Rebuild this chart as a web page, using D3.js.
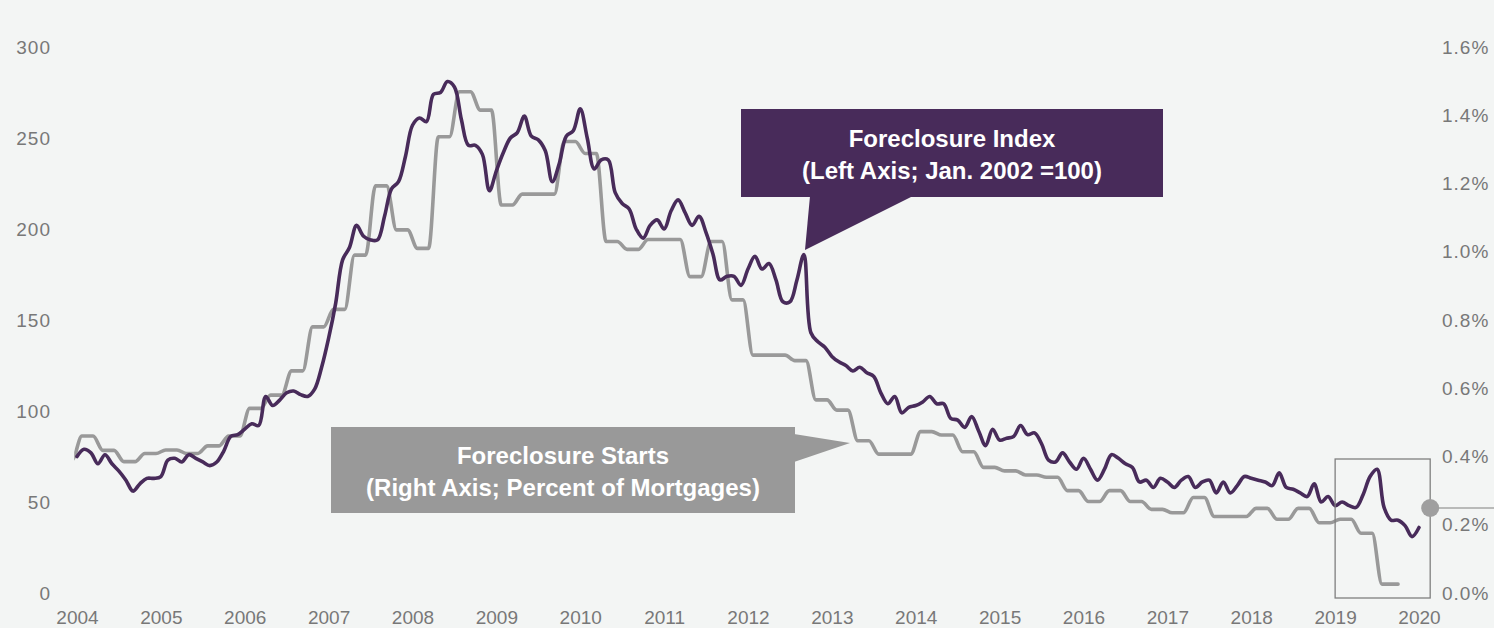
<!DOCTYPE html>
<html>
<head>
<meta charset="utf-8">
<script src="https://cdn.jsdelivr.net/npm/d3@7"></script>
<style>
	html, body { margin: 0; padding: 0; background: #f3f5f4; }
	svg { display: block; font-family: "Liberation Sans", Arial, sans-serif; }
</style>
</head>
<body>
<div id="chart"></div>
<script>
// DATA
// Foreclosure index, monthly from Jan 2004 (left axis, Jan. 2002 = 100)
const indexMonthly = [
	75, 79, 77, 71, 76, 71, 67, 62, 56, 60, 63, 63,
	64, 73, 74, 72, 76, 74, 72, 70, 72, 78, 86, 87,
	90, 93, 92, 108, 103, 106, 110, 111, 109, 108, 112, 124,
	140, 159, 183, 190, 202, 196, 194, 194, 207, 222, 226, 240,
	257, 261, 259, 274, 275, 281, 278, 260, 246, 246, 241, 221,
	232, 242, 250, 253, 262, 251, 249, 243, 226, 236, 251, 254,
	266, 250, 233, 238, 238, 220, 214, 211, 200, 195, 202, 205,
	200, 210, 216, 209, 202, 207, 198, 186, 172, 174, 174, 169,
	178, 185, 178, 181, 172, 160, 160, 172, 186, 143, 138, 135,
	130, 127, 125, 122, 124, 121, 119, 110, 104, 108, 99, 102,
	103, 105, 108, 104, 104, 96, 95, 91, 97, 89, 81, 90,
	84, 85, 86, 92, 87, 88, 82, 73, 72, 77, 72, 68,
	74, 68, 62, 68, 76, 74, 71, 69, 61, 62, 58, 63,
	61, 58, 62, 64, 58, 61, 62, 55, 61, 55, 59, 64,
	63, 62, 61, 59, 66, 58, 57, 55, 53, 60, 50, 53,
	48, 50, 48, 47, 54, 64, 68, 47, 40, 40, 37, 31,
	36
];

// Foreclosure starts, quarterly from Q4 2003 (right axis, percent of mortgages)
const startsQuarterly = [
	0.39,
	0.46, 0.418, 0.385, 0.409,
	0.419, 0.409, 0.431, 0.46,
	0.541, 0.58, 0.651, 0.78,
	0.831, 0.99, 1.193, 1.064,
	1.01, 1.337, 1.469, 1.415,
	1.137, 1.169, 1.169, 1.323,
	1.288, 1.03, 1.007, 1.036,
	1.036, 0.927, 1.03, 0.859,
	0.697, 0.697, 0.681, 0.566,
	0.536, 0.446, 0.407, 0.407,
	0.473, 0.463, 0.414, 0.368,
	0.358, 0.346, 0.339, 0.3,
	0.268, 0.3, 0.268, 0.245,
	0.235, 0.28, 0.224, 0.224,
	0.248, 0.216, 0.248, 0.206,
	0.216, 0.175, 0.026
];

const yearTicks = d3.range(2004, 2021);
const leftTicks = [0, 50, 100, 150, 200, 250, 300];
const rightTicks = [0, 0.2, 0.4, 0.6, 0.8, 1.0, 1.2, 1.4, 1.6];

const indexLabel = ["Foreclosure Index", "(Left Axis; Jan. 2002 =100)"];
const startsLabel = ["Foreclosure Starts", "(Right Axis; Percent of Mortgages)"];

//DIMENSIONS
const width = 1494,
	height = 628;

const purple = "#482b5a",
	grey = "#999999",
	tickColor = "#787878";

const svg = d3
	.select("#chart")
	.append("svg")
	.attr("width", width)
	.attr("height", height);

svg.append("rect").attr("width", width).attr("height", height).attr("fill", "#f3f5f4");

//SCALES (x in months since Jan 2004)
const x = d3.scaleLinear().domain([0, 192]).range([77, 1419]);
const yLeft = d3.scaleLinear().domain([0, 300]).range([593, 47]);
const yRight = d3.scaleLinear().domain([0, 1.6]).range([593, 47]);

//AXES
const styleAxis = spacing => g => {
	g.select(".domain").remove();
	g.selectAll("text")
		.style("font-size", "19px")
		.style("letter-spacing", spacing)
		.style("fill", tickColor)
		.style("font-family", "'Liberation Sans', Arial, sans-serif");
};

svg.append("g")
	.attr("transform", "translate(51,0)")
	.call(d3.axisLeft(yLeft).tickValues(leftTicks).tickSize(0).tickPadding(0))
	.call(styleAxis("1px"));

svg.append("g")
	.attr("transform", "translate(1442,0)")
	.call(
		d3.axisRight(yRight)
			.tickValues(rightTicks)
			.tickSize(0)
			.tickPadding(0)
			.tickFormat(d => d.toFixed(1) + "%")
	)
	.call(styleAxis("1px"));

svg.append("g")
	.attr("transform", "translate(0,610)")
	.call(
		d3.axisBottom(x)
			.tickValues(yearTicks.map(yr => (yr - 2004) * 12))
			.tickSize(0)
			.tickPadding(0)
			.tickFormat(m => 2004 + m / 12)
	)
	.call(styleAxis("0px"));

//CLIP so the quarterly series starts with the chart
const defs = svg.append("defs");
defs.append("clipPath")
	.attr("id", "plotClip")
	.append("rect")
	.attr("x", x(-0.4))
	.attr("y", 0)
	.attr("width", width - x(-0.4))
	.attr("height", height);

//FORECLOSURE STARTS (quarterly values held across each quarter)
const startsPoints = [];
startsQuarterly.forEach((v, k) => {
	const m = (k - 1) * 3;
	const last = k === startsQuarterly.length - 1;
	startsPoints.push([m + 0.7, v], [m + (last ? 3 : 2.3), v]);
});

const startsLine = d3
	.line()
	.x(d => x(d[0]))
	.y(d => yRight(d[1]))
	.curve(d3.curveMonotoneX);

svg.append("path")
	.datum(startsPoints)
	.attr("clip-path", "url(#plotClip)")
	.attr("d", startsLine)
	.attr("fill", "none")
	.attr("stroke", grey)
	.attr("stroke-width", 3.6)
	.attr("stroke-linejoin", "round")
	.attr("stroke-linecap", "round");

//FORECLOSURE INDEX
const indexLine = d3
	.line()
	.x((d, i) => x(i))
	.y(d => yLeft(d))
	.curve(d3.curveCatmullRom.alpha(0.5));

svg.append("path")
	.datum(indexMonthly)
	.attr("d", indexLine)
	.attr("fill", "none")
	.attr("stroke", purple)
	.attr("stroke-width", 3.6)
	.attr("stroke-linejoin", "round")
	.attr("stroke-linecap", "round");

//HIGHLIGHT BOX 2019
svg.append("rect")
	.attr("x", x(180))
	.attr("y", 459)
	.attr("width", x(193.6) - x(180))
	.attr("height", 139)
	.attr("fill", "none")
	.attr("stroke", "#7f7f7f")
	.attr("stroke-width", 1.3);

svg.append("line")
	.attr("x1", x(193.6))
	.attr("x2", width)
	.attr("y1", 508)
	.attr("y2", 508)
	.attr("stroke", "#a6a6a6")
	.attr("stroke-width", 1.5);

svg.append("circle")
	.attr("cx", x(193.6))
	.attr("cy", 508)
	.attr("r", 9)
	.attr("fill", "#9f9f9f");

//CALLOUTS
function callout(box, tail, fill, lines) {
	const g = svg.append("g");
	g.append("polygon").attr("points", tail.join(" ")).attr("fill", fill);
	g.append("rect")
		.attr("x", box.x)
		.attr("y", box.y)
		.attr("width", box.w)
		.attr("height", box.h)
		.attr("fill", fill);
	g.selectAll("text")
		.data(lines)
		.enter()
		.append("text")
		.attr("x", box.x + box.w / 2)
		.attr("y", (d, i) => box.y + box.h / 2 - 14 + i * 32)
		.attr("dy", "0.35em")
		.attr("text-anchor", "middle")
		.style("font-size", "24px")
		.style("font-weight", 700)
		.style("fill", "#ffffff")
		.text(d => d);
}

callout(
	{ x: 741, y: 109, w: 422, h: 88 },
	[[810, 196], [805, 250], [913, 196]],
	purple,
	indexLabel
);

callout(
	{ x: 331, y: 427, w: 464, h: 86 },
	[[794, 434], [850, 443], [794, 462]],
	grey,
	startsLabel
);
</script>
</body>
</html>
